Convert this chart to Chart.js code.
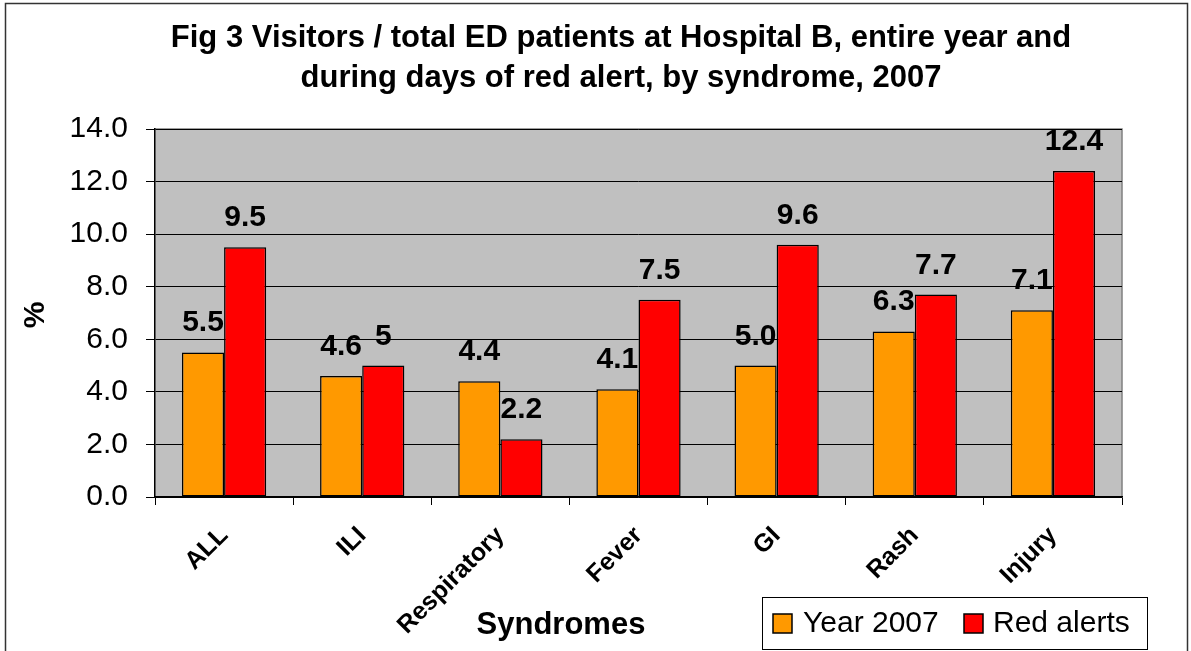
<!DOCTYPE html>
<html>
<head>
<meta charset="utf-8">
<script src="https://cdn.jsdelivr.net/npm/chart.js@4.4.0/dist/chart.umd.min.js"></script>
<style>
  body { margin: 0; background: #fff; }
  #wrap { width: 1191px; height: 651px; position: relative; }
</style>
</head>
<body>
<div id="wrap"><canvas id="fig3Chart"></canvas></div>
<script>
// datos
const syndromes = ['ALL', 'ILI', 'Respiratory', 'Fever', 'GI', 'Rash', 'Injury'];
const year2007 = [5.5, 4.6, 4.4, 4.1, 5.0, 6.3, 7.1];
const redAlerts = [9.5, 5, 2.2, 7.5, 9.6, 7.7, 12.4];
const yearLabels = ['5.5', '4.6', '4.4', '4.1', '5.0', '6.3', '7.1'];
const redLabels = ['9.5', '5', '2.2', '7.5', '9.6', '7.7', '12.4'];
const yTickLabels = ['0.0', '2.0', '4.0', '6.0', '8.0', '10.0', '12.0', '14.0'];
const titleLines = ['Fig 3 Visitors / total ED patients at Hospital B, entire year and',
                    'during days of red alert, by syndrome, 2007'];

const FONT = 'Arial, "Liberation Sans", sans-serif';

// fondo gris, marco, titulos, etiquetas y leyenda
const decoPlugin = {
    id: 'deco',
    beforeDraw(chart) {
        const { ctx, chartArea: a } = chart;
        ctx.save();
        ctx.fillStyle = '#fff';
        ctx.fillRect(0, 0, chart.width, chart.height);
        ctx.fillStyle = '#C0C0C0';
        ctx.fillRect(a.left, a.top, a.right - a.left, a.bottom - a.top);
        ctx.strokeStyle = '#808080';
        ctx.lineWidth = 1.5;
        ctx.beginPath();
        ctx.moveTo(a.left, a.top);
        ctx.lineTo(a.right, a.top);
        ctx.lineTo(a.right, a.bottom);
        ctx.stroke();
        ctx.restore();
    },
    afterDatasetsDraw(chart) {
        const ctx = chart.ctx;
        ctx.save();
        ctx.fillStyle = '#000';
        ctx.font = 'bold 30px ' + FONT;
        ctx.textAlign = 'center';
        ctx.textBaseline = 'alphabetic';
        [yearLabels, redLabels].forEach((labels, di) => {
            chart.getDatasetMeta(di).data.forEach((bar, i) => {
                ctx.fillText(labels[i], bar.x, bar.y - 21);
            });
        });
        ctx.restore();
    },
    afterDraw(chart) {
        const ctx = chart.ctx;
        ctx.save();
        // marco exterior
        ctx.strokeStyle = '#333';
        ctx.lineWidth = 1.5;
        ctx.strokeRect(5.5, 3.5, 1182, 700);

        // titulo
        ctx.fillStyle = '#000';
        ctx.textAlign = 'center';
        ctx.textBaseline = 'middle';
        ctx.font = 'bold 31px ' + FONT;
        ctx.fillText(titleLines[0], 621, 38);
        ctx.fillText(titleLines[1], 621, 78);

        // titulos de ejes
        ctx.font = 'bold 31px ' + FONT;
        ctx.fillText('Syndromes', 561, 625);
        ctx.save();
        ctx.translate(36, 315);
        ctx.rotate(-Math.PI / 2);
        ctx.font = 'bold 30px ' + FONT;
        ctx.fillText('%', 0, 0);
        ctx.restore();

        // leyenda
        ctx.fillStyle = '#fff';
        ctx.fillRect(762, 597, 385, 52);
        ctx.strokeStyle = '#000';
        ctx.lineWidth = 1;
        ctx.strokeRect(762.5, 597.5, 385, 52);
        const items = [[773, 803], [964, 993]];
        ctx.font = '30px ' + FONT;
        ctx.textAlign = 'left';
        chart.data.datasets.forEach((ds, i) => {
            const [bx, tx] = items[i];
            ctx.fillStyle = ds.backgroundColor;
            ctx.fillRect(bx, 614, 19, 19);
            ctx.strokeStyle = '#000';
            ctx.lineWidth = 1.5;
            ctx.strokeRect(bx, 614, 19, 19);
            ctx.fillStyle = '#000';
            ctx.fillText(ds.label, tx, 624);
        });
        ctx.restore();
    }
};

const ctx = document.getElementById('fig3Chart').getContext('2d');
new Chart(ctx, {
    type: 'bar',
    data: {
        labels: syndromes,
        datasets: [{
            label: 'Year 2007',
            data: year2007,
            backgroundColor: '#FF9900',
            borderColor: '#000',
            borderWidth: 1.5,
            borderSkipped: false,
            categoryPercentage: 0.61,
            barPercentage: 1.0
        }, {
            label: 'Red alerts',
            data: redAlerts,
            backgroundColor: '#FF0000',
            borderColor: '#000',
            borderWidth: 1.5,
            borderSkipped: false,
            categoryPercentage: 0.61,
            barPercentage: 1.0
        }]
    },
    options: {
        responsive: true,
        maintainAspectRatio: false,
        animation: false,
        layout: { padding: { top: 129, right: 69, left: 0, bottom: 0 } },
        plugins: {
            legend: { display: false },
            tooltip: { enabled: false }
        },
        scales: {
            x: {
                afterFit(scale) { scale.height = 154; },
                grid: {
                    offset: true,
                    drawOnChartArea: false,
                    drawTicks: true,
                    tickLength: 8,
                    color: '#000'
                },
                border: { color: '#000', width: 1.5 },
                ticks: {
                    color: '#000',
                    font: { family: FONT, size: 25, weight: 'bold' },
                    minRotation: 45,
                    maxRotation: 45,
                    autoSkip: false,
                    padding: 16
                }
            },
            y: {
                min: 0,
                max: 14,
                afterFit(scale) { scale.width = 155; },
                grid: {
                    color: '#000',
                    lineWidth: 1,
                    tickLength: 9
                },
                border: { color: '#000', width: 1.5 },
                ticks: {
                    stepSize: 2,
                    color: '#000',
                    padding: 18,
                    font: { family: FONT, size: 30 },
                    callback: function(value) {
                        return yTickLabels[value / 2];
                    }
                }
            }
        }
    },
    plugins: [decoPlugin]
});
</script>
</body>
</html>
